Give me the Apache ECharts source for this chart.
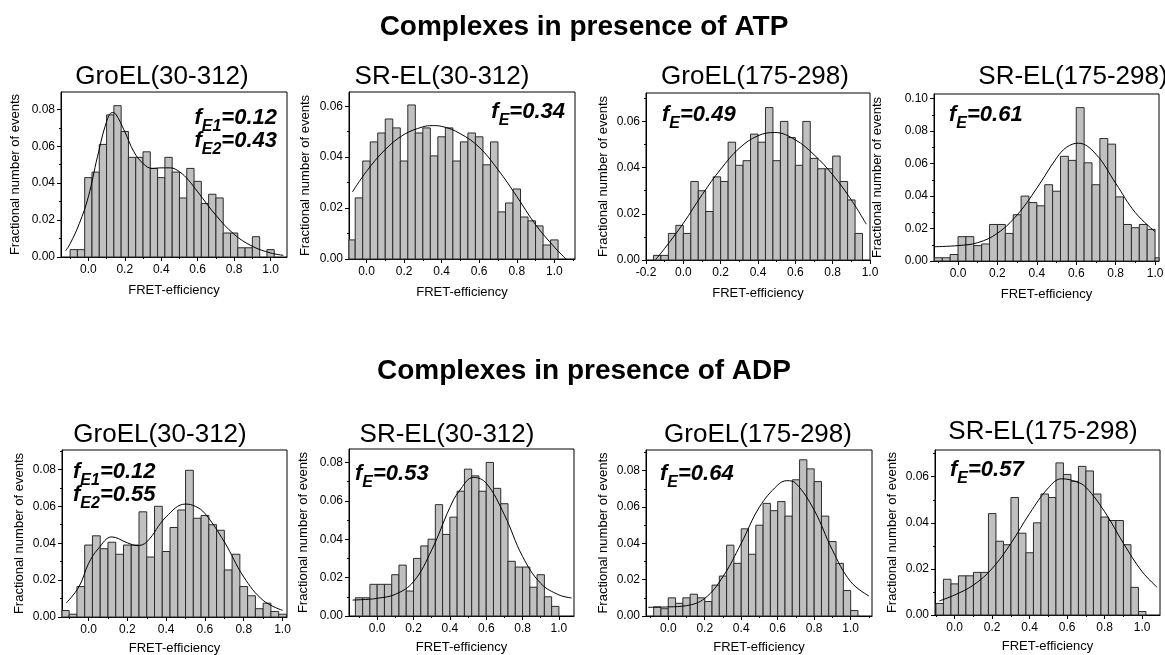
<!DOCTYPE html>
<html><head><meta charset="utf-8">
<script src="https://cdn.jsdelivr.net/npm/echarts@6/dist/echarts.min.js"></script>
<style>html,body{margin:0;padding:0;background:#fff}#c{width:1165px;height:655px}</style>
</head><body><div id="c"></div>
<script>
// ---------------- DATA ----------------
const rowTitles = ['Complexes in presence of ATP', 'Complexes in presence of ADP'];
const panelTitles = ['GroEL(30-312)', 'SR-EL(30-312)', 'GroEL(175-298)', 'SR-EL(175-298)',
                     'GroEL(30-312)', 'SR-EL(30-312)', 'GroEL(175-298)', 'SR-EL(175-298)'];
const fitLabels = [
  [['E1', '0.12'], ['E2', '0.43']], [['E', '0.34']], [['E', '0.49']], [['E', '0.61']],
  [['E1', '0.12'], ['E2', '0.55']], [['E', '0.53']], [['E', '0.64']], [['E', '0.57']]
];
const xAxisName = 'FRET-efficiency';
const yAxisName = 'Fractional number of events';
const BIN_WIDTH = 0.04;

// bin centres (FRET efficiency)
const binsP1 = [-0.08,-0.04,0.00,0.04,0.08,0.12,0.16,0.20,0.24,0.28,0.32,0.36,0.40,0.44,0.48,0.52,0.56,0.60,0.64,0.68,0.72,0.76,0.80,0.84,0.88,0.92,0.96,1.00];
const binsP3 = [-0.14,-0.10,-0.06,-0.02,0.02,0.06,0.10,0.14,0.18,0.22,0.26,0.30,0.34,0.38,0.42,0.46,0.50,0.54,0.58,0.62,0.66,0.70,0.74,0.78,0.82,0.86,0.90,0.94];
const binsP4 = [-0.10,-0.06,-0.02,0.02,0.06,0.10,0.14,0.18,0.22,0.26,0.30,0.34,0.38,0.42,0.46,0.50,0.54,0.58,0.62,0.66,0.70,0.74,0.78,0.82,0.86,0.90,0.94,0.98,1.02];
const binsP5 = [-0.12,-0.08,-0.04,0.00,0.04,0.08,0.12,0.16,0.20,0.24,0.28,0.32,0.36,0.40,0.44,0.48,0.52,0.56,0.60,0.64,0.68,0.72,0.76,0.80,0.84,0.88,0.92,0.96,1.00];
const binsP6 = [-0.10,-0.06,-0.02,0.02,0.06,0.10,0.14,0.18,0.22,0.26,0.30,0.34,0.38,0.42,0.46,0.50,0.54,0.58,0.62,0.66,0.70,0.74,0.78,0.82,0.86,0.90,0.94,0.98];
const binsP7 = [-0.06,-0.02,0.02,0.06,0.10,0.14,0.18,0.22,0.26,0.30,0.34,0.38,0.42,0.46,0.50,0.54,0.58,0.62,0.66,0.70,0.74,0.78,0.82,0.86,0.90,0.94,0.98,1.02];

// histogram heights (fractional number of events)
const histP1 = [0.004,0.004,0.043,0.046,0.061,0.077,0.082,0.068,0.054,0.054,0.057,0.048,0.043,0.054,0.046,0.032,0.048,0.041,0.029,0.034,0.032,0.013,0.013,0.005,0.005,0.011,0,0.004];
const histP2 = [0.0075,0.024,0.0385,0.046,0.0495,0.055,0.0515,0.0385,0.0605,0.0495,0.0515,0.0405,0.048,0.0515,0.0385,0.046,0.0495,0.048,0.037,0.046,0.0185,0.022,0.0275,0.0165,0.015,0.013,0.0055,0.0075];
const histP3 = [0.002,0.002,0.0115,0.015,0.0115,0.034,0.030,0.021,0.036,0.034,0.051,0.041,0.043,0.0545,0.051,0.066,0.043,0.060,0.053,0.041,0.060,0.044,0.0395,0.0395,0.045,0.034,0.026,0.0115];
const histP4 = [0.002,0.002,0.004,0.015,0.015,0.0095,0.0105,0.0225,0.0225,0.017,0.0285,0.040,0.036,0.034,0.047,0.043,0.0645,0.062,0.0945,0.0605,0.047,0.0755,0.072,0.0395,0.0225,0.0205,0.0225,0.0195,0.002];
const histP5 = [0.0035,0.0015,0.0165,0.039,0.044,0.037,0.0405,0.034,0.039,0.039,0.057,0.0325,0.060,0.0355,0.0485,0.058,0.0795,0.0535,0.055,0.050,0.047,0.0255,0.034,0.0165,0.0115,0.0045,0.0075,0.003,0.0015];
const histP6 = [0.0095,0.0095,0.0165,0.0165,0.0165,0.0215,0.0265,0.013,0.030,0.0365,0.040,0.058,0.0425,0.0515,0.065,0.0765,0.073,0.065,0.080,0.0665,0.0585,0.0285,0.0255,0.0255,0.015,0.0215,0.010,0.005];
const histP7 = [0.005,0.004,0.010,0.007,0.010,0.012,0.010,0.008,0.017,0.022,0.039,0.029,0.048,0.034,0.050,0.062,0.058,0.063,0.055,0.075,0.086,0.081,0.074,0.055,0.041,0.029,0.014,0.003];
const histP8 = [0.005,0.0155,0.0135,0.017,0.017,0.0185,0.0185,0.044,0.032,0.0305,0.051,0.0355,0.027,0.040,0.0525,0.051,0.066,0.061,0.058,0.0645,0.0625,0.0525,0.0425,0.041,0.041,0.0305,0.012,0.0015];

// fitted curves
const fitXP1 = [-0.125,-0.1,-0.05,0.0,0.05,0.1,0.13,0.15,0.2,0.25,0.3,0.35,0.4,0.45,0.5,0.55,0.6,0.7,0.8,0.9,1.0,1.07];
const fitYP1 = [0.0033,0.0072,0.018,0.0326,0.0543,0.0733,0.0782,0.0775,0.0679,0.057,0.0507,0.048,0.0483,0.0483,0.0462,0.0416,0.0353,0.0226,0.0123,0.0058,0.0022,0.0009];
const fitXP2 = [-0.075,0.0,0.1,0.2,0.3,0.35,0.4,0.5,0.6,0.7,0.8,0.9,1.0,1.062];
const fitYP2 = [0.0263,0.0344,0.043,0.0489,0.0519,0.0524,0.0521,0.0492,0.0439,0.0351,0.0246,0.0135,0.0047,0.0];
const fitXP3 = [-0.15,-0.1,0.0,0.1,0.2,0.3,0.4,0.49,0.6,0.7,0.8,0.9,0.98];
const fitYP3 = [0.0,0.005,0.0159,0.0282,0.0393,0.0484,0.0538,0.0552,0.052,0.0456,0.0369,0.026,0.0155];
const fitXP4 = [-0.12,0.0,0.1,0.2,0.3,0.4,0.5,0.55,0.61,0.7,0.8,0.9,1.0];
const fitYP4 = [0.0088,0.0095,0.0113,0.0171,0.0284,0.0449,0.0634,0.070,0.0726,0.0658,0.0479,0.0298,0.0181];
const fitXP5 = [-0.115,-0.05,0.0,0.05,0.12,0.2,0.25,0.3,0.4,0.5,0.55,0.6,0.7,0.8,0.9,1.0];
const fitYP5 = [0.0076,0.0163,0.029,0.037,0.0434,0.0402,0.0387,0.0407,0.0543,0.0612,0.060,0.0561,0.0407,0.0217,0.009,0.0036];
const fitXP6 = [-0.135,-0.05,0.0,0.1,0.2,0.3,0.4,0.45,0.53,0.6,0.7,0.8,0.9,1.0,1.07];
const fitYP6 = [0.0083,0.0087,0.0092,0.0113,0.0179,0.0344,0.0565,0.0649,0.0722,0.0692,0.0527,0.031,0.017,0.011,0.0094];
const fitXP7 = [-0.11,0.0,0.1,0.2,0.3,0.4,0.5,0.6,0.65,0.7,0.8,0.9,1.0,1.1];
const fitYP7 = [0.0048,0.005,0.0057,0.0097,0.0217,0.040,0.060,0.0721,0.0745,0.073,0.0583,0.0363,0.0189,0.011];
const fitXP8 = [-0.082,0.0,0.1,0.2,0.3,0.4,0.5,0.57,0.65,0.7,0.8,0.9,1.0,1.08];
const fitYP8 = [0.0061,0.0087,0.013,0.0202,0.0311,0.0441,0.0552,0.0591,0.0578,0.0554,0.0448,0.0311,0.0188,0.012];

// tick labels
const xTicks = [0.0, 0.2, 0.4, 0.6, 0.8, 1.0];
const xTicksP3 = [-0.2, 0.0, 0.2, 0.4, 0.6, 0.8, 1.0];
const xMinorTicks = [-0.1, 0.1, 0.3, 0.5, 0.7, 0.9, 1.1];
const yTicks6 = [0.00, 0.02, 0.04, 0.06];
const yTicks8 = [0.00, 0.02, 0.04, 0.06, 0.08];
const yTicks10 = [0.00, 0.02, 0.04, 0.06, 0.08, 0.10];
const yMinorTicks = [0.01, 0.03, 0.05, 0.07, 0.09];

// ---------------- LAYOUT ----------------
const panels = [
  {bins: binsP1, hist: histP1, fx: fitXP1, fy: fitYP1, xt: xTicks,   yt: yTicks8,
   g: {left: 61, top: 92, width: 226, height: 165}, x: [-0.15, 1.09], yMax: 0.0894,
   yGap: 39, xGap: 27, tx: 162, ty: 77, lab: {x: 277, y: 118, align: 'right', dy: 23}},
  {bins: binsP1, hist: histP2, fx: fitXP2, fy: fitYP2, xt: xTicks,   yt: yTicks6,
   g: {left: 349, top: 92, width: 226, height: 167}, x: [-0.093, 1.11], yMax: 0.0656,
   yGap: 37, xGap: 27, tx: 442, ty: 77, lab: {x: 565, y: 112, align: 'right'}},
  {bins: binsP3, hist: histP3, fx: fitXP3, fy: fitYP3, xt: xTicksP3, yt: yTicks6,
   g: {left: 646, top: 93, width: 224, height: 167}, x: [-0.2, 1.0], yMax: 0.0723,
   yGap: 36, xGap: 27, tx: 755, ty: 77, lab: {x: 662, y: 115, align: 'left'}},
  {bins: binsP4, hist: histP4, fx: fitXP4, fy: fitYP4, xt: xTicks,   yt: yTicks10,
   g: {left: 934, top: 94, width: 225, height: 167}, x: [-0.122, 1.02], yMax: 0.1029,
   yGap: 50, xGap: 27, tx: 1073, ty: 77, lab: {x: 949, y: 115, align: 'left'}},
  {bins: binsP5, hist: histP5, fx: fitXP5, fy: fitYP5, xt: xTicks,   yt: yTicks8,
   g: {left: 62, top: 450, width: 225, height: 167}, x: [-0.137, 1.023], yMax: 0.0905,
   yGap: 36, xGap: 25, tx: 160, ty: 435, lab: {x: 73, y: 472, align: 'left', dy: 23}},
  {bins: binsP6, hist: histP6, fx: fitXP6, fy: fitYP6, xt: xTicks,   yt: yTicks8,
   g: {left: 349, top: 449, width: 225, height: 167}, x: [-0.155, 1.083], yMax: 0.087,
   yGap: 39, xGap: 25, tx: 447, ty: 435, lab: {x: 355, y: 474, align: 'left'}},
  {bins: binsP7, hist: histP7, fx: fitXP7, fy: fitYP7, xt: xTicks,   yt: yTicks8,
   g: {left: 646, top: 450, width: 226, height: 166}, x: [-0.122, 1.117], yMax: 0.0914,
   yGap: 36, xGap: 25, tx: 758, ty: 435, lab: {x: 660, y: 474, align: 'left'}},
  {bins: binsP1, hist: histP8, fx: fitXP8, fy: fitYP8, xt: xTicks,   yt: yTicks6,
   g: {left: 935, top: 450, width: 225, height: 165}, x: [-0.105, 1.095], yMax: 0.0716,
   yGap: 36, xGap: 25, tx: 1043, ty: 432, lab: {x: 950, y: 470, align: 'left'}}
];

const FONT = '"Liberation Sans", Arial, Helvetica, sans-serif';
const chart = echarts.init(document.getElementById('c'), null, {renderer: 'canvas', width: 1165, height: 655});

const grid = [], xAxis = [], yAxis = [], series = [], graphic = [];

rowTitles.forEach((t, i) => {
  graphic.push({type: 'text', x: 584, y: i === 0 ? 27 : 371, z: 10,
    style: {text: t, fill: '#000', font: 'bold 28px ' + FONT,
            textAlign: 'center', textVerticalAlign: 'middle', align: 'center', verticalAlign: 'middle'}});
});

panels.forEach((p, k) => {
  grid.push(Object.assign({show: true, borderColor: '#000', borderWidth: 1, backgroundColor: 'transparent',
                           containLabel: false, outerBoundsMode: 'none'}, p.g));
  const xr = p.x;
  const inX = v => v >= xr[0] - 1e-9 && v <= xr[1] + 1e-9;
  const inY = v => v <= p.yMax + 1e-9;
  // main x axis
  xAxis.push({type: 'value', gridIndex: k, position: 'bottom', min: xr[0], max: xr[1],
    name: xAxisName, nameLocation: 'middle', nameGap: p.xGap,
    nameTextStyle: {fontSize: 13, color: '#000', fontFamily: FONT},
    axisLine: {show: true, onZero: false, lineStyle: {color: '#000', width: 1}},
    axisTick: {show: true, length: 4, customValues: p.xt.filter(inX), lineStyle: {color: '#000'}},
    axisLabel: {show: true, margin: 7, fontSize: 12, color: '#000', fontFamily: FONT,
                customValues: p.xt.filter(inX), formatter: v => (+v).toFixed(1)},
    splitLine: {show: false}});
  // minor x ticks
  xAxis.push({type: 'value', gridIndex: k, position: 'bottom', min: xr[0], max: xr[1],
    axisLine: {show: false, onZero: false},
    axisTick: {show: true, length: 2, customValues: xMinorTicks.filter(inX), lineStyle: {color: '#000'}},
    axisLabel: {show: false}, splitLine: {show: false}});
  yAxis.push({type: 'value', gridIndex: k, position: 'left', min: 0, max: p.yMax,
    name: yAxisName, nameLocation: 'middle', nameGap: p.yGap,
    nameTextStyle: {fontSize: 13, color: '#000', fontFamily: FONT},
    axisLine: {show: true, onZero: false, lineStyle: {color: '#000', width: 1}},
    axisTick: {show: true, length: 4, customValues: p.yt.filter(inY), lineStyle: {color: '#000'}},
    axisLabel: {show: true, margin: 6, fontSize: 12, color: '#000', fontFamily: FONT,
                customValues: p.yt.filter(inY), formatter: v => (+v).toFixed(2)},
    splitLine: {show: false}});
  yAxis.push({type: 'value', gridIndex: k, position: 'left', min: 0, max: p.yMax,
    axisLine: {show: false, onZero: false},
    axisTick: {show: true, length: 2, customValues: yMinorTicks.filter(inY), lineStyle: {color: '#000'}},
    axisLabel: {show: false}, splitLine: {show: false}});

  series.push({type: 'custom', xAxisIndex: 2 * k, yAxisIndex: 2 * k,
    data: p.bins.map((b, i) => [b, p.hist[i]]),
    encode: {x: 0, y: 1},
    renderItem: (params, api) => {
      const c = api.value(0), v = api.value(1);
      if (!v) return null;
      const p0 = api.coord([c - BIN_WIDTH / 2, v]);
      const p1 = api.coord([c + BIN_WIDTH / 2, 0]);
      const cs = params.coordSys;
      const shape = echarts.graphic.clipRectByRect(
        {x: p0[0], y: p0[1], width: p1[0] - p0[0], height: p1[1] - p0[1]},
        {x: cs.x, y: cs.y, width: cs.width, height: cs.height});
      return shape && {type: 'rect', shape: shape,
        style: {fill: '#c0c0c0', stroke: '#2b2b2b', lineWidth: 1}};
    }, z: 2});

  series.push({type: 'line', xAxisIndex: 2 * k, yAxisIndex: 2 * k,
    data: p.fx.map((x, i) => [x, p.fy[i]]), smooth: 0.4, showSymbol: false, symbol: 'none',
    clip: true, lineStyle: {color: '#000', width: 1}, z: 3});

  graphic.push({type: 'text', x: p.tx, y: p.ty, z: 10,
    style: {text: panelTitles[k], fill: '#000', font: '26px ' + FONT,
            textAlign: 'center', textVerticalAlign: 'middle', align: 'center', verticalAlign: 'middle'}});

  fitLabels[k].forEach((lab, j) => {
    graphic.push({type: 'text', x: p.lab.x, y: p.lab.y + j * (p.lab.dy || 0), z: 10,
      style: {text: '{f|f}{s|' + lab[0] + '}{f|=' + lab[1] + '}', fill: '#000',
              textAlign: p.lab.align, align: p.lab.align, textVerticalAlign: 'middle', verticalAlign: 'middle',
              rich: {
                f: {fontSize: 22, fontWeight: 'bold', fontStyle: 'italic', fontFamily: FONT,
                    lineHeight: 34, verticalAlign: 'middle', fill: '#000', color: '#000'},
                s: {fontSize: 16, fontWeight: 'bold', fontStyle: 'italic', fontFamily: FONT,
                    lineHeight: 16, verticalAlign: 'bottom', fill: '#000', color: '#000'}
              }}});
  });
});

chart.setOption({animation: false, backgroundColor: '#fff', grid, xAxis, yAxis, series, graphic});
</script></body></html>
